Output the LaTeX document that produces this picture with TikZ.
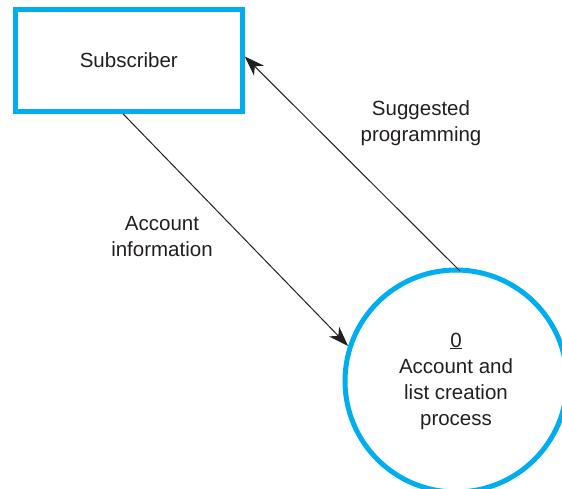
\documentclass[tikz,border=0pt]{standalone}
\usepackage{fontspec}
\setmainfont{Liberation Sans}
\usetikzlibrary{arrows.meta}
\definecolor{dfdcyan}{HTML}{00AEEF}
\definecolor{inkgray}{HTML}{231F20}
\begin{document}
\begin{tikzpicture}[x=1pt,y=-1pt,
  every node/.style={text=inkgray,font=\fontsize{20.5}{26}\selectfont,align=center},
  entity/.style={draw=dfdcyan,line width=5pt,minimum width=227pt,minimum height=102pt,inner sep=0pt},
  process/.style={draw=dfdcyan,line width=5pt,circle,minimum size=222pt,inner sep=0pt},
  flow/.style={draw=inkgray,line width=1pt,-{Stealth[length=20pt,width=14pt,inset=6pt]}},
  lbl/.style={inner sep=0pt}]
  \useasboundingbox (0,0) rectangle (562,488);
  \node[entity] (sub) at (128.8,60.3) {Subscriber};
  \node[process] (proc) at (456,381) {};
  \node[lbl] (ptxt) at (456,381) {\underline{0}\\Account and\\list creation\\process};
  \coordinate (s1) at (123,113.8);
  \coordinate (p1) at (460,271);
  \draw[flow] (s1) -- (proc.162);
  \draw[flow] (p1) -- (sub.east |- 0,56.5);
  \node[lbl] (l1) at (162,236.5) {Account\\information};
  \node[lbl] (l2) at (421,123) {Suggested\\programming};
\end{tikzpicture}
\end{document}
